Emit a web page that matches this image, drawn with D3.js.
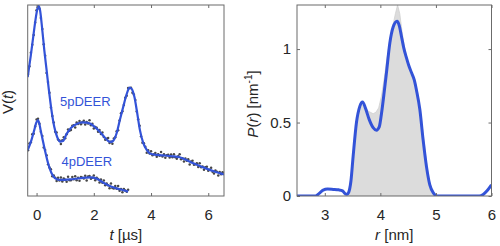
<!DOCTYPE html>
<html><head><meta charset="utf-8">
<script src="https://cdn.jsdelivr.net/npm/d3@7"></script>
<style>
html,body{margin:0;padding:0;background:#fff;}
svg{display:block;}
text{font-family:"Liberation Sans",Arial,sans-serif;fill:#262626;}
</style></head>
<body>
<svg id="chart" width="500" height="246"></svg>
<script>
// ---------- Left panel: time-domain traces ----------
const tTicks = [0, 2, 4, 6];
const tDomain = [-0.31, 6.55];

// 5-pulse DEER fit
const fit5T = [-0.31,-0.2,-0.1,0,0.06,0.12,0.2,0.27,0.35,0.43,0.52,0.62,0.72,0.82,0.92,1.05,1.2,1.4,1.6,1.75,1.9,2.05,2.2,2.35,2.48,2.58,2.67,2.8,2.91,3.03,3.15,3.25,3.33,3.42,3.5,3.61,3.73,3.85,3.96,4.2,4.5,4.8,5.0,5.24,5.48,5.83,6.17,6.55];
const fit5V = [0.623,0.738,0.853,0.958,0.997,0.974,0.869,0.764,0.660,0.555,0.450,0.361,0.309,0.285,0.288,0.325,0.356,0.377,0.385,0.384,0.377,0.359,0.338,0.312,0.291,0.283,0.288,0.330,0.398,0.468,0.534,0.568,0.560,0.518,0.450,0.346,0.277,0.241,0.223,0.215,0.212,0.207,0.203,0.188,0.171,0.150,0.131,0.113];

// 5-pulse DEER data points (sampled from t = -0.3 every 0.05 us)
const data5Start = -0.3, data5Step = 0.05;
const data5V = [0.638,0.679,0.750,0.792,0.843,0.909,0.973,0.988,0.981,0.932,0.875,0.795,0.734,0.644,0.597,0.541,0.464,0.419,0.385,0.336,0.333,0.296,0.290,0.272,0.292,0.307,0.302,0.323,0.348,0.341,0.345,0.368,0.370,0.358,0.385,0.377,0.393,0.376,0.386,0.394,0.375,0.388,0.379,0.396,0.371,0.378,0.353,0.361,0.357,0.336,0.346,0.325,0.333,0.309,0.294,0.300,0.304,0.277,0.284,0.273,0.301,0.308,0.339,0.344,0.395,0.433,0.444,0.477,0.514,0.525,0.565,0.564,0.567,0.540,0.532,0.502,0.442,0.402,0.368,0.313,0.279,0.276,0.258,0.227,0.240,0.223,0.234,0.213,0.219,0.225,0.205,0.219,0.211,0.230,0.207,0.219,0.200,0.213,0.216,0.201,0.217,0.203,0.219,0.203,0.195,0.208,0.218,0.193,0.198,0.181,0.196,0.185,0.193,0.165,0.180,0.185,0.164,0.166,0.171,0.152,0.172,0.151,0.154,0.137,0.151,0.153,0.132,0.138,0.148,0.127,0.118,0.133,0.127,0.107,0.126,0.114,0.125];

// 4-pulse DEER fit
const fit4T = [-0.31,-0.2,-0.1,0,0.05,0.1,0.14,0.2,0.29,0.4,0.52,0.64,0.81,1.16,1.51,1.86,2.1,2.33,2.56,2.8,3.03,3.2];
const fit4V = [0.241,0.283,0.335,0.387,0.398,0.377,0.346,0.304,0.241,0.173,0.120,0.094,0.084,0.087,0.093,0.098,0.091,0.070,0.052,0.040,0.031,0.023];

// 4-pulse DEER data points (sampled from t = -0.3 every 0.05 us)
const data4Start = -0.3, data4Step = 0.05;
const data4V = [0.239,0.275,0.281,0.323,0.326,0.364,0.400,0.405,0.378,0.336,0.314,0.254,0.241,0.213,0.166,0.149,0.140,0.104,0.107,0.095,0.078,0.095,0.081,0.097,0.076,0.091,0.085,0.074,0.101,0.082,0.082,0.100,0.088,0.104,0.082,0.095,0.080,0.100,0.095,0.091,0.106,0.081,0.102,0.105,0.090,0.095,0.107,0.083,0.095,0.089,0.071,0.087,0.070,0.081,0.056,0.066,0.056,0.041,0.065,0.042,0.039,0.053,0.038,0.052,0.027,0.037,0.019,0.037,0.029,0.022,0.033];

// ---------- Right panel: distance distribution ----------
const rTicks = [3, 4, 5, 6];
const pTicks = [0, 0.5, 1];
const rDomain = [2.5, 6];
const pDomain = [0, 1.3];

const rFit = [2.5,2.83,2.9,2.97,3.05,3.15,3.25,3.32,3.37,3.4,3.43,3.47,3.51,3.57,3.63,3.68,3.73,3.8,3.87,3.93,3.98,4.02,4.07,4.11,4.17,4.23,4.3,4.34,4.38,4.42,4.47,4.51,4.56,4.61,4.65,4.71,4.77,4.83,4.89,4.96,5.0,5.05,5.78,5.85,5.92,6.0];
const pFit = [0,0,0.018,0.04,0.047,0.045,0.042,0.035,0.015,0.012,0.025,0.1,0.27,0.5,0.61,0.64,0.6,0.52,0.465,0.448,0.47,0.56,0.71,0.84,1.04,1.15,1.19,1.16,1.086,1.01,0.94,0.89,0.84,0.79,0.72,0.59,0.38,0.2,0.075,0.018,0.003,0,0,0.01,0.035,0.075];

const rRef = [3.35,3.42,3.47,3.52,3.57,3.62,3.67,3.72,3.77,3.82,3.87,3.92,3.97,4.02,4.07,4.12,4.17,4.22,4.27,4.31,4.35,4.39,4.44,4.49,4.54,4.59,4.64,4.69,4.74,4.79,4.84,4.89,4.94,4.99,5.03];
const pRef = [0,0.02,0.12,0.32,0.5,0.58,0.62,0.61,0.58,0.57,0.56,0.57,0.6,0.68,0.8,0.94,1.06,1.15,1.24,1.3,1.24,1.12,1.0,0.92,0.86,0.81,0.76,0.66,0.52,0.36,0.2,0.09,0.03,0.005,0];

// ---------- Drawing ----------
const blue = "#3353d8";
const axisCol = "#6b6b6b";
const svg = d3.select("#chart");

const L = {x0: 27.7, x1: 224, y0: 5, y1: 196};
const R = {x0: 297, x1: 491.5, y0: 5, y1: 196};

const xT = d3.scaleLinear().domain(tDomain).range([L.x0, L.x1]);
const yV = d3.scaleLinear().domain([0, 1]).range([L.y1, L.y0]);
const xR = d3.scaleLinear().domain(rDomain).range([R.x0, R.x1]);
const yP = d3.scaleLinear().domain(pDomain).range([R.y1, R.y0]);

const defs = svg.append("defs");
defs.append("clipPath").attr("id","clipL").append("rect")
  .attr("x", L.x0).attr("y", L.y0).attr("width", L.x1-L.x0).attr("height", L.y1-L.y0);
defs.append("clipPath").attr("id","clipR").append("rect")
  .attr("x", R.x0).attr("y", R.y0).attr("width", R.x1-R.x0).attr("height", R.y1-R.y0);

function styleAxis(g, showText){
  g.select(".domain").remove();
  g.selectAll(".tick line").attr("stroke", axisCol).attr("stroke-width", 1);
  g.selectAll(".tick text").attr("font-size", 15).attr("fill", "#262626")
    .attr("font-family", '"Liberation Sans",Arial,sans-serif');
  if(!showText) g.selectAll(".tick text").remove();
}

// Left panel
const gL = svg.append("g");
const gLdata = gL.append("g").attr("clip-path","url(#clipL)");

const dots5 = data5V.map((v,i)=>({t: data5Start + i*data5Step, v}));
const dots4 = data4V.map((v,i)=>({t: data4Start + i*data4Step, v}));
gLdata.selectAll("circle.d5").data(dots5).join("circle").attr("class","d5")
  .attr("cx", d=>xT(d.t)).attr("cy", d=>yV(d.v)).attr("r", 1.25).attr("fill", "#474747");
gLdata.selectAll("circle.d4").data(dots4).join("circle").attr("class","d4")
  .attr("cx", d=>xT(d.t)).attr("cy", d=>yV(d.v)).attr("r", 1.25).attr("fill", "#474747");

const lineL = d3.line().x(d=>xT(d[0])).y(d=>yV(d[1])).curve(d3.curveMonotoneX);
gLdata.append("path").datum(fit5T.map((t,i)=>[t, fit5V[i]]))
  .attr("d", lineL).attr("fill","none").attr("stroke", blue).attr("stroke-width", 2.2);
gLdata.append("path").datum(fit4T.map((t,i)=>[t, fit4V[i]]))
  .attr("d", lineL).attr("fill","none").attr("stroke", blue).attr("stroke-width", 2.2);

gL.append("g").attr("transform",`translate(0,${L.y1})`)
  .call(d3.axisBottom(xT).tickValues(tTicks).tickSize(-3).tickPadding(13).tickFormat(d3.format("d")))
  .call(g=>styleAxis(g,true));
gL.append("g").attr("transform",`translate(0,${L.y0})`)
  .call(d3.axisTop(xT).tickValues(tTicks).tickSize(-3))
  .call(g=>styleAxis(g,false));
gL.append("rect").attr("x", L.x0).attr("y", L.y0).attr("width", L.x1-L.x0).attr("height", L.y1-L.y0)
  .attr("fill","none").attr("stroke", axisCol).attr("stroke-width", 1);

gL.append("text").attr("x", 60).attr("y", 106).attr("font-size", 13).style("fill", blue).text("5pDEER");
gL.append("text").attr("x", 61.5).attr("y", 166).attr("font-size", 13).style("fill", blue).text("4pDEER");

const xlabL = gL.append("text").attr("x", (L.x0+L.x1)/2).attr("y", 240).attr("text-anchor","middle").attr("font-size", 15);
xlabL.append("tspan").attr("font-style","italic").text("t");
xlabL.append("tspan").text(" [µs]");

const ylabL = gL.append("text").attr("transform", "translate(13,102) rotate(-90)").attr("text-anchor","middle").attr("font-size", 15);
ylabL.append("tspan").text("V(");
ylabL.append("tspan").attr("font-style","italic").text("t");
ylabL.append("tspan").text(")");

// Right panel
const gR = svg.append("g");
const gRdata = gR.append("g").attr("clip-path","url(#clipR)");

const area = d3.area().x(d=>xR(d[0])).y0(yP(0)).y1(d=>yP(d[1]));
gRdata.append("path").datum(rRef.map((r,i)=>[r, pRef[i]]))
  .attr("d", area).attr("fill", "#dcdcdc").attr("stroke", "#d0d0d0").attr("stroke-width", 0.8);

const lineR = d3.line().x(d=>xR(d[0])).y(d=>yP(d[1])).curve(d3.curveMonotoneX);
gRdata.append("path").datum(rFit.map((r,i)=>[r, pFit[i]]))
  .attr("d", lineR).attr("fill","none").attr("stroke", blue).attr("stroke-width", 3)
  .attr("stroke-linejoin","round");

gR.append("g").attr("transform",`translate(0,${R.y1})`)
  .call(d3.axisBottom(xR).tickValues(rTicks).tickSize(-3).tickPadding(13).tickFormat(d3.format("d")))
  .call(g=>styleAxis(g,true));
gR.append("g").attr("transform",`translate(0,${R.y0})`)
  .call(d3.axisTop(xR).tickValues(rTicks).tickSize(-3))
  .call(g=>styleAxis(g,false));
gR.append("g").attr("transform",`translate(${R.x0},0)`)
  .call(d3.axisLeft(yP).tickValues(pTicks).tickSize(-3).tickPadding(6).tickFormat(d=>d===0.5?"0.5":String(d)))
  .call(g=>styleAxis(g,true));
gR.append("g").attr("transform",`translate(${R.x1},0)`)
  .call(d3.axisRight(yP).tickValues(pTicks).tickSize(-3))
  .call(g=>styleAxis(g,false));
gR.append("rect").attr("x", R.x0).attr("y", R.y0).attr("width", R.x1-R.x0).attr("height", R.y1-R.y0)
  .attr("fill","none").attr("stroke", axisCol).attr("stroke-width", 1);

const xlabR = gR.append("text").attr("x", (R.x0+R.x1)/2).attr("y", 240).attr("text-anchor","middle").attr("font-size", 15);
xlabR.append("tspan").attr("font-style","italic").text("r");
xlabR.append("tspan").text(" [nm]");

const ylabR = gR.append("text").attr("transform", "translate(258,104) rotate(-90)").attr("text-anchor","middle").attr("font-size", 15);
ylabR.append("tspan").attr("font-style","italic").text("P");
ylabR.append("tspan").text("(");
ylabR.append("tspan").attr("font-style","italic").text("r");
ylabR.append("tspan").text(") [nm");
ylabR.append("tspan").attr("font-size", 10).attr("dy", -6).text("-1");
ylabR.append("tspan").attr("dy", 6).text("]");
</script>
</body></html>
